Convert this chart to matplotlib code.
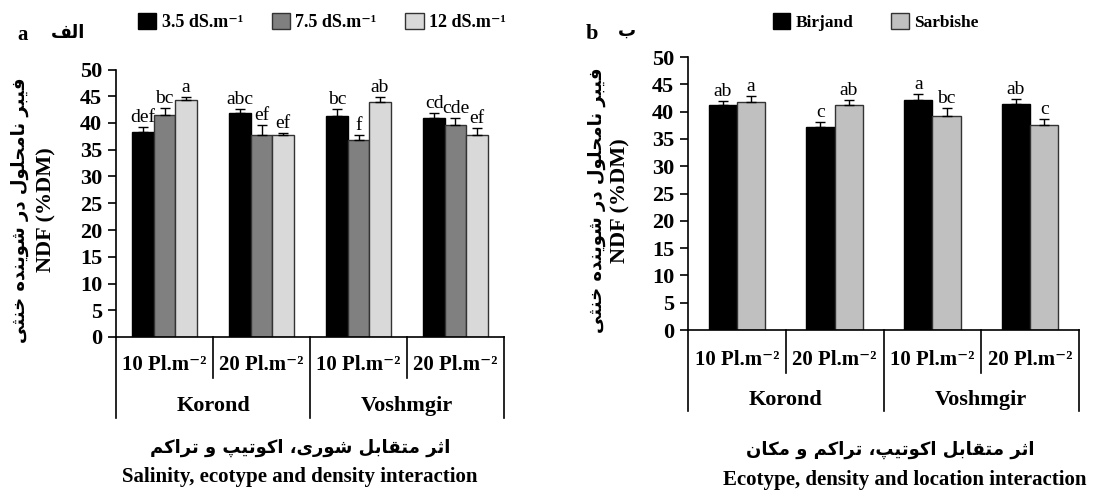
import numpy as np
import matplotlib
matplotlib.use("Agg")
import matplotlib.pyplot as plt

# ---- data ----
densities = ["10 Pl.m\u207b\u00b2", "20 Pl.m\u207b\u00b2", "10 Pl.m\u207b\u00b2", "20 Pl.m\u207b\u00b2"]
ecotypes = ["Korond", "Voshmgir"]

salinity_labels = ["3.5 dS.m\u207b\u00b9", "7.5 dS.m\u207b\u00b9", "12 dS.m\u207b\u00b9"]
sal_35 = [38.3, 41.9, 41.3, 40.9]
sal_75 = [41.5, 37.8, 36.8, 39.7]
sal_12 = [44.3, 37.7, 43.9, 37.7]
sal_35_err = [0.9, 0.7, 1.3, 1.0]
sal_75_err = [1.3, 1.8, 1.0, 1.2]
sal_12_err = [0.5, 0.5, 0.9, 1.3]
sal_35_sig = ["def", "abc", "bc", "cd"]
sal_75_sig = ["bc", "ef", "f", "cde"]
sal_12_sig = ["a", "ef", "ab", "ef"]

location_labels = ["Birjand", "Sarbishe"]
birjand = [41.2, 37.2, 42.2, 41.4]
sarbishe = [41.7, 41.3, 39.2, 37.5]
birjand_err = [0.8, 0.9, 1.0, 0.9]
sarbishe_err = [1.2, 0.8, 1.4, 1.1]
birjand_sig = ["ab", "c", "a", "ab"]
sarbishe_sig = ["a", "ab", "bc", "c"]

ylabel_fa = "فیبر نامحلول در شوینده خنثی"
ylabel_en = "NDF (%DM)"
title_a_fa = "اثر متقابل شوری، اکوتیپ و تراکم"
title_a_en = "Salinity, ecotype and density interaction"
title_b_fa = "اثر متقابل اکوتیپ، تراکم و مکان"
title_b_en = "Ecotype, density and location interaction"


# ---- small Persian shaper (matplotlib has no Arabic shaping) ----
# forms: isolated, final, initial, medial
FORMS = {
    "ا": ("\uFE8D", "\uFE8E", None, None),
    "د": ("\uFEA9", "\uFEAA", None, None),
    "ر": ("\uFEAD", "\uFEAE", None, None),
    "و": ("\uFEED", "\uFEEE", None, None),
    "ب": ("\uFE8F", "\uFE90", "\uFE91", "\uFE92"),
    "پ": ("\uFB56", "\uFB57", "\uFB58", "\uFB59"),
    "ت": ("\uFE95", "\uFE96", "\uFE97", "\uFE98"),
    "ث": ("\uFE99", "\uFE9A", "\uFE9B", "\uFE9C"),
    "ح": ("\uFEA1", "\uFEA2", "\uFEA3", "\uFEA4"),
    "خ": ("\uFEA5", "\uFEA6", "\uFEA7", "\uFEA8"),
    "ش": ("\uFEB5", "\uFEB6", "\uFEB7", "\uFEB8"),
    "ف": ("\uFED1", "\uFED2", "\uFED3", "\uFED4"),
    "ق": ("\uFED5", "\uFED6", "\uFED7", "\uFED8"),
    "ک": ("\uFB8E", "\uFB8F", "\uFEDB", "\uFEDC"),
    "ل": ("\uFEDD", "\uFEDE", "\uFEDF", "\uFEE0"),
    "م": ("\uFEE1", "\uFEE2", "\uFEE3", "\uFEE4"),
    "ن": ("\uFEE5", "\uFEE6", "\uFEE7", "\uFEE8"),
    "ه": ("\uFEE9", "\uFEEA", "\uFEEB", "\uFEEC"),
    "ی": ("\uFEEF", "\uFEF0", "\uFEF3", "\uFEF4"),
}


def shape(text):
    out = []
    for i, ch in enumerate(text):
        if ch not in FORMS:
            out.append(ch)
            continue
        prev = text[i - 1] if i > 0 else ""
        nxt = text[i + 1] if i + 1 < len(text) else ""
        pj = prev in FORMS and FORMS[prev][2] is not None
        nj = nxt in FORMS and FORMS[ch][2] is not None
        iso, fin, ini, med = FORMS[ch]
        if pj and nj:
            out.append(med)
        elif pj:
            out.append(fin)
        elif nj:
            out.append(ini)
        else:
            out.append(iso)
    return "".join(reversed(out))


SERIF = ["Liberation Serif", "DejaVu Serif"]
FA = ["DejaVu Sans"]

fig = plt.figure(figsize=(11.03, 4.91), dpi=100)
ax1 = fig.add_axes([116 / 1103, 1 - 337 / 491, 388 / 1103, 267.5 / 491])
ax2 = fig.add_axes([688 / 1103, 1 - 330 / 491, 391 / 1103, 273 / 491])

x = np.arange(4)


def draw_panel(ax, series, errs, sigs, colors, labels, width, edge):
    n = len(series)
    for k in range(n):
        pos = x + (k - (n - 1) / 2) * width
        ax.bar(pos, series[k], width, color=colors[k], edgecolor=edge[k],
               linewidth=1.0, label=labels[k], zorder=2)
        ax.errorbar(pos, series[k], yerr=[np.zeros(4), errs[k]], fmt="none",
                    ecolor="black", elinewidth=1.0, capsize=3.5, capthick=1.0, zorder=3)
        for p, v, e, s in zip(pos, series[k], errs[k], sigs[k]):
            ax.text(p, v + e + 0.2, s, ha="center", va="bottom",
                    fontsize=14, family=SERIF)
    ax.set_xlim(-0.5, 3.5)
    ax.set_ylim(0, 50)
    ax.set_yticks(np.arange(0, 51, 5))
    ax.set_xticks([])
    for side in ["top", "right"]:
        ax.spines[side].set_visible(False)
    ax.spines["left"].set_linewidth(1.2)
    ax.spines["bottom"].set_linewidth(1.2)
    ax.tick_params(axis="y", direction="out", length=6, width=1.2, pad=4)
    for t in ax.get_yticklabels():
        t.set_fontfamily(SERIF)
        t.set_fontweight("bold")
        t.set_fontsize(16)


def draw_table(ax, short_y, long_y, dens_y, eco_y):
    tr = ax.get_xaxis_transform()
    for xv in [-0.5, 1.5, 3.5]:
        ax.plot([xv, xv], [0, long_y], color="black", lw=1.2, transform=tr, clip_on=False)
    for xv in [0.5, 2.5]:
        ax.plot([xv, xv], [0, short_y], color="black", lw=1.2, transform=tr, clip_on=False)
    for xv, d in zip(x, densities):
        ax.text(xv, dens_y, d, transform=tr, ha="center", va="center",
                fontsize=15, fontweight="bold", family=SERIF)
    for xv, e in zip([0.5, 2.5], ecotypes):
        ax.text(xv, eco_y, e, transform=tr, ha="center", va="center",
                fontsize=16, fontweight="bold", family=SERIF)


# panel a
draw_panel(ax1, [sal_35, sal_75, sal_12], [sal_35_err, sal_75_err, sal_12_err],
           [sal_35_sig, sal_75_sig, sal_12_sig],
           ["#000000", "#808080", "#d9d9d9"], salinity_labels, 0.22,
           ["#000000", "#333333", "#333333"])
draw_table(ax1, -0.153, -0.303, -0.105, -0.258)
ax1.legend(loc="center", bbox_to_anchor=(0.531, 1.178), ncol=3, frameon=False,
           handlelength=1.0, handleheight=1.0, handletextpad=0.3,
           columnspacing=1.6, prop={"family": SERIF, "weight": "bold", "size": 13})

# panel b
draw_panel(ax2, [birjand, sarbishe], [birjand_err, sarbishe_err],
           [birjand_sig, sarbishe_sig],
           ["#000000", "#c0c0c0"], location_labels, 0.29,
           ["#000000", "#333333"])
draw_table(ax2, -0.156, -0.295, -0.11, -0.255)
ax2.legend(loc="center", bbox_to_anchor=(0.48, 1.128), ncol=2, frameon=False,
           handlelength=1.0, handleheight=1.0, handletextpad=0.3,
           columnspacing=2.2, prop={"family": SERIF, "weight": "bold", "size": 12.5})

# y labels (Persian + English lines)
for ax, xf, xe in [(ax1, -0.247, -0.178), (ax2, -0.233, -0.172)]:
    ax.text(xf, 0.475, shape(ylabel_fa), transform=ax.transAxes, rotation=90,
            ha="center", va="center", fontsize=13, fontweight="bold", family=FA)
    ax.text(xe, 0.475, ylabel_en, transform=ax.transAxes, rotation=90,
            ha="center", va="center", fontsize=16, fontweight="bold", family=SERIF)

# panel letters
fig.text(23 / 1103, 1 - 35 / 491, "a", ha="center", va="center",
         fontsize=15, fontweight="bold", family=SERIF)
fig.text(68 / 1103, 1 - 33 / 491, shape("الف"), ha="center", va="center",
         fontsize=13, fontweight="bold", family=FA)
fig.text(592 / 1103, 1 - 34 / 491, "b", ha="center", va="center",
         fontsize=16, fontweight="bold", family=SERIF)
fig.text(627 / 1103, 1 - 31 / 491, shape("ب"), ha="center", va="center",
         fontsize=13, fontweight="bold", family=FA)

# bottom titles
fig.text(300 / 1103, 1 - 448 / 491, shape(title_a_fa), ha="center", va="center",
         fontsize=13, fontweight="bold", family=FA)
fig.text(300 / 1103, 1 - 477 / 491, title_a_en, ha="center", va="center",
         fontsize=15, fontweight="bold", family=SERIF)
fig.text(890 / 1103, 1 - 450 / 491, shape(title_b_fa), ha="center", va="center",
         fontsize=13, fontweight="bold", family=FA)
fig.text(905 / 1103, 1 - 480 / 491, title_b_en, ha="center", va="center",
         fontsize=15, fontweight="bold", family=SERIF)

fig.savefig("out.png", dpi=100)
